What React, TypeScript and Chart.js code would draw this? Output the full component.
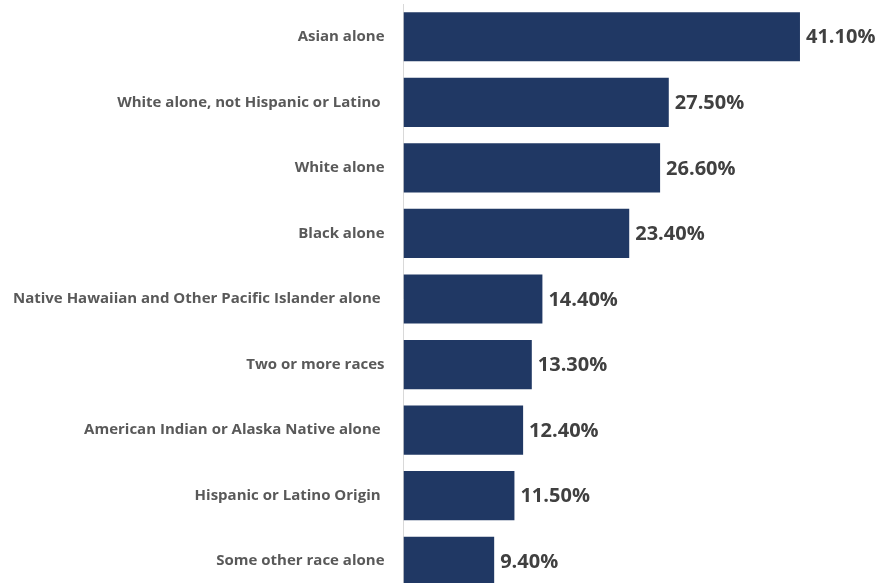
import React, { useEffect, useRef } from "react";
import { Chart, registerables } from "chart.js";

Chart.register(...registerables);

const categories = [
  "Asian alone",
  "White alone, not Hispanic or Latino ",
  "White alone",
  "Black alone",
  "Native Hawaiian and Other Pacific Islander alone ",
  "Two or more races",
  "American Indian or Alaska Native alone ",
  "Hispanic or Latino Origin ",
  "Some other race alone",
];
const values = [41.1, 27.5, 26.6, 23.4, 14.4, 13.3, 12.4, 11.5, 9.4];

const valueLabels = {
  id: "valueLabels",
  afterDatasetsDraw(chart: any) {
    const ctx = chart.ctx;
    const meta = chart.getDatasetMeta(0);
    ctx.save();
    ctx.font = "bold 20px 'Open Sans', sans-serif";
    ctx.fillStyle = "#404040";
    ctx.textAlign = "left";
    ctx.textBaseline = "middle";
    meta.data.forEach((bar: any, i: number) => {
      ctx.fillText(values[i].toFixed(2) + "%", bar.x + 6, bar.y + 1);
    });
    ctx.restore();
  },
};

export default function App() {
  const ref = useRef<HTMLCanvasElement>(null);
  useEffect(() => {
    document.documentElement.style.overflow = "hidden";
    document.body.style.overflow = "hidden";
    const chart = new Chart(ref.current!, {
      type: "bar",
      data: {
        labels: categories,
        datasets: [
          {
            data: values,
            backgroundColor: "#203864",
            categoryPercentage: 1,
            barPercentage: 0.75,
          },
        ],
      },
      options: {
        indexAxis: "y",
        animation: false,
        responsive: false,
        maintainAspectRatio: false,
        layout: { padding: { top: 4, right: 0, bottom: 0, left: 0 } },
        plugins: { legend: { display: false }, tooltip: { enabled: false } },
        scales: {
          x: { display: false, min: 0, max: 49.5 },
          y: {
            grid: { display: false, drawTicks: false },
            border: { display: true, color: "#d9d9d9", width: 1 },
            ticks: {
              padding: 19,
              color: "#595959",
              font: { family: "'Open Sans', sans-serif", weight: "bold", size: 15 },
            },
            afterFit: (scale: any) => {
              scale.width = 403.5;
              scale.paddingTop = 0;
              scale.paddingBottom = 0;
            },
          },
        },
      },
      plugins: [valueLabels],
    });
    return () => chart.destroy();
  }, []);
  return (
    <div style={{ position: "fixed", left: 0, top: 0, width: 881, height: 594, background: "#fff" }}>
      <canvas ref={ref} width={881} height={594} style={{ width: 881, height: 594 }} />
    </div>
  );
}
